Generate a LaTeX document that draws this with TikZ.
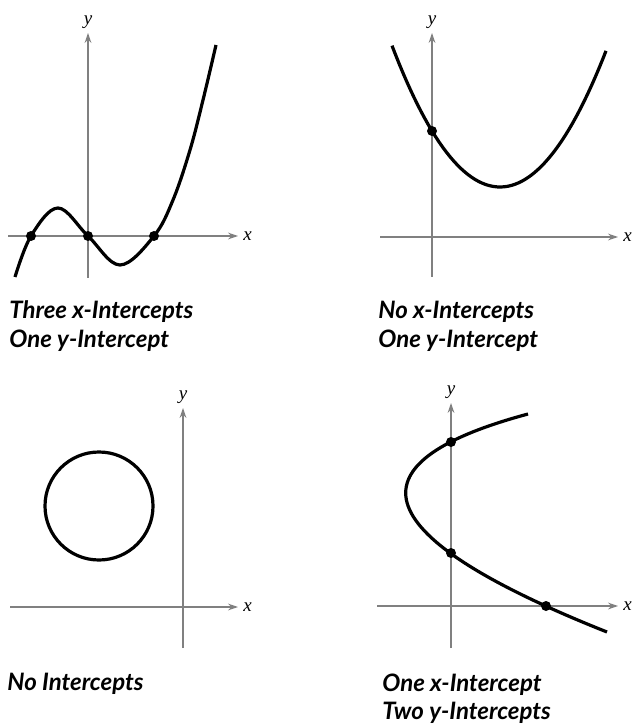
\documentclass[tikz,border=0pt]{standalone}
\usepackage{fontspec}
\newfontfamily\capfont{Lato}
\newfontfamily\axfont{Liberation Serif}
\usetikzlibrary{arrows.meta}
\definecolor{axisgray}{gray}{0.5}
\begin{document}
\begin{tikzpicture}[x=0.5pt, y=-0.5pt,
    axis/.style={draw=axisgray, line width=0.65pt, -{Stealth[length=5pt, width=3.4pt]}},
    curve/.style={line width=1.6pt, line join=round},
    dot/.style={circle, fill=black, inner sep=0pt, minimum size=5pt},
    axlabel/.style={font=\axfont\itshape\fontsize{9.5}{9.5}\selectfont, inner sep=0pt},
    caption/.style={font=\capfont\bfseries\itshape\fontsize{12}{14}\selectfont, align=left, inner sep=0pt, anchor=base west}]
    \useasboundingbox (0,0) rectangle (632,726);

    % three x-intercepts, one y-intercept
    \coordinate (x1a) at (8,236);  \coordinate (x1b) at (238,236);
    \coordinate (y1a) at (88,278); \coordinate (y1b) at (88,33);
    \draw[axis] (x1a) -- (x1b);
    \draw[axis] (y1a) -- (y1b);
    \node[axlabel, anchor=west] (x1lab) at ([xshift=2.5pt]x1b) {x};
    \node[axlabel, anchor=south] (y1lab) at ([yshift=2pt]y1b) {y};
    \draw[curve] plot[smooth, tension=0.6] coordinates {(15,277) (31,236) (58,208) (88,236) (120,265) (154,236) (173,200) (190,150) (203,100) (216,45)};
    \node[dot] (p1a) at (31,236) {};
    \node[dot] (p1b) at (88,236) {};
    \node[dot] (p1c) at (154,236) {};
    \node[caption] (cap1) at (9,347) {Three x-Intercepts\\One y-Intercept};

    % no x-intercepts, one y-intercept
    \coordinate (x2a) at (380,237); \coordinate (x2b) at (618,237);
    \coordinate (y2a) at (432,277); \coordinate (y2b) at (432,33);
    \draw[axis] (x2a) -- (x2b);
    \draw[axis] (y2a) -- (y2b);
    \node[axlabel, anchor=west] (x2lab) at ([xshift=2.5pt]x2b) {x};
    \node[axlabel, anchor=south] (y2lab) at ([yshift=2pt]y2b) {y};
    \draw[curve, domain=-108:106, samples=60] plot ({500+\x}, {187-0.01211*\x*\x});
    \node[dot] (p2a) at (432,131) {};
    \node[caption] (cap2) at (378,347) {No x-Intercepts\\One y-Intercept};

    % no intercepts
    \coordinate (x3a) at (10,607);  \coordinate (x3b) at (238,607);
    \coordinate (y3a) at (183,648); \coordinate (y3b) at (183,408);
    \draw[axis] (x3a) -- (x3b);
    \draw[axis] (y3a) -- (y3b);
    \node[axlabel, anchor=west] (x3lab) at ([xshift=2.5pt]x3b) {x};
    \node[axlabel, anchor=south] (y3lab) at ([yshift=2pt]y3b) {y};
    \coordinate (c3) at (99,506);
    \draw[curve] (c3) circle[radius=27pt];
    \node[caption] (cap3) at (7,690) {No Intercepts};

    % one x-intercept, two y-intercepts
    \coordinate (x4a) at (377,606); \coordinate (x4b) at (618,606);
    \coordinate (y4a) at (451,648); \coordinate (y4b) at (451,403);
    \draw[axis] (x4a) -- (x4b);
    \draw[axis] (y4a) -- (y4b);
    \node[axlabel, anchor=west] (x4lab) at ([xshift=2.5pt]x4b) {x};
    \node[axlabel, anchor=south] (y4lab) at ([yshift=2pt]y4b) {y};
    \draw[curve] (528,414) .. controls (342,464) and (368,537) .. (607,632);
    \node[dot] (p4a) at (451,442) {};
    \node[dot] (p4b) at (451,553) {};
    \node[dot] (p4c) at (546,606) {};
    \node[caption] (cap4) at (382,719) {One x-Intercept\\Two y-Intercepts};
\end{tikzpicture}
\end{document}
